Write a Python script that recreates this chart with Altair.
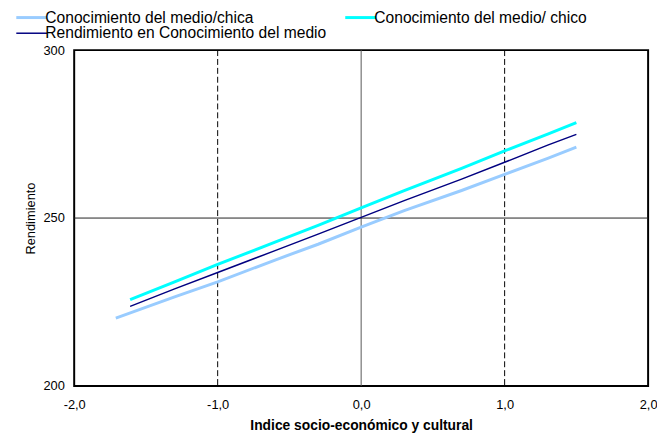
import altair as alt
import pandas as pd

series_names = ["Conocimiento del medio/chica", "Conocimiento del medio/ chico", "Rendimiento en Conocimiento del medio"]
series_colors = ["#99CCFF", "#00FFFF", "#000080"]
series_widths = [3, 3, 1.5]

x_chica = [-1.71, -1.3, -1.0, -0.6, -0.3, 0.0, 0.3, 0.7, 1.0, 1.3, 1.5]
y_chica = [220.2, 226.5, 231.0, 237.5, 242.2, 247.3, 252.2, 258.2, 263.0, 267.8, 271.1]
x_chico = [-1.61, -1.3, -1.0, -0.6, -0.3, 0.0, 0.3, 0.7, 1.0, 1.3, 1.5]
y_chico = [225.7, 231.0, 236.2, 242.8, 247.8, 253.0, 258.2, 264.8, 270.0, 275.0, 278.4]
x_total = [-1.61, -1.3, -1.0, -0.6, -0.3, 0.0, 0.3, 0.7, 1.0, 1.3, 1.5]
y_total = [223.7, 228.9, 233.8, 240.3, 245.2, 250.2, 255.2, 261.6, 266.6, 271.7, 274.9]

dashed_x = [-1.0, 1.0]
solid_x = [0.0]
solid_y = [250]

rows = []
for name, xs, ys in zip(series_names, [x_chica, x_chico, x_total], [y_chica, y_chico, y_total]):
    for i, (a, b) in enumerate(zip(xs, ys)):
        rows.append({"serie": name, "x": a, "y": b, "i": i})
df = pd.DataFrame(rows)

xscale = alt.Scale(domain=[-2, 2], nice=False, zero=False)
yscale = alt.Scale(domain=[200, 300], nice=False, zero=False)

xaxis = alt.Axis(
    title="Indice socio-económico y cultural", values=[-2, -1, 0, 1, 2],
    labelExpr="replace(replace(format(datum.value, '.1f'), '.', ','), '\u2212', '-')",
    grid=False, ticks=False, domain=False, labelPadding=13, titlePadding=7,
    titleFontWeight="bold", titleFontSize=14, labelFlush=False,
)
yaxis = alt.Axis(
    title="Rendimiento", values=[200, 250, 300], grid=False, ticks=False, domain=False,
    labelPadding=10, titlePadding=5, titleFontWeight="normal", titleFontSize=13,
)

dash_df = pd.DataFrame({"x": dashed_x})
vrule_df = pd.DataFrame({"x": solid_x})
hrule_df = pd.DataFrame({"y": solid_y})

dashed = alt.Chart(dash_df).mark_rule(color="black", strokeWidth=1, strokeDash=[6, 3]).encode(
    x=alt.X("x:Q", scale=xscale, axis=xaxis))
vrule = alt.Chart(vrule_df).mark_rule(color="#555555", strokeWidth=1).encode(
    x=alt.X("x:Q", scale=xscale, axis=xaxis))
hrule = alt.Chart(hrule_df).mark_rule(color="#222222", strokeWidth=1).encode(
    y=alt.Y("y:Q", scale=yscale, axis=yaxis))

lines = alt.Chart(df).mark_line().encode(
    x=alt.X("x:Q", scale=xscale, axis=xaxis),
    y=alt.Y("y:Q", scale=yscale, axis=yaxis),
    color=alt.Color("serie:N", scale=alt.Scale(domain=series_names, range=series_colors),
                    sort=series_names, title=None),
    strokeWidth=alt.StrokeWidth("serie:N", scale=alt.Scale(type="ordinal", domain=series_names, range=series_widths),
                                sort=series_names, title=None),
    order="i:Q",
)

chart = alt.layer(dashed, vrule, hrule, lines).properties(
    width=581, height=340,
    autosize=alt.AutoSizeParams(type="none"),
    padding={"left": 67, "top": 40, "right": 9, "bottom": 48},
).configure_view(
    stroke="black", strokeWidth=2
).configure_axis(
    labelFont="Liberation Sans", titleFont="Liberation Sans",
    labelFontSize=13, labelColor="black", titleColor="black",
).configure_legend(
    orient="none", legendX=-51, legendY=-41, columns=2, direction="horizontal",
    columnPadding=12, rowPadding=-10, symbolType="M-3.1,0H3.1", symbolSize=100,
    labelFont="Liberation Sans", labelFontSize=15.8, labelColor="black",
    labelOffset=6, padding=0, labelLimit=0,
)

chart.save("out.html", embed_options={"renderer": "svg", "actions": False})
